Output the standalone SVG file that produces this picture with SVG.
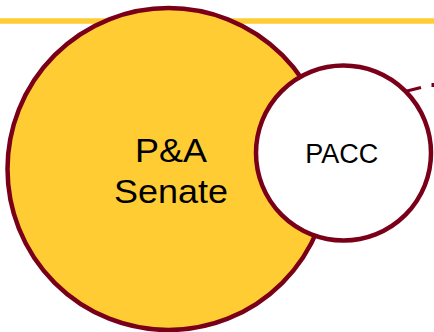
<svg xmlns="http://www.w3.org/2000/svg" width="434" height="332" viewBox="0 0 434 332">
<style>
.ring{stroke:#7A0019;stroke-width:4.5}
.lbl{font-family:"Liberation Sans",Arial,sans-serif;fill:#000;text-anchor:middle}
.conn{stroke:#7A0019;stroke-width:3;fill:none}
</style>
<rect x="0" y="0" width="434" height="332" fill="#fff"/>
<line x1="0" y1="21" x2="434" y2="21" stroke="#FFCC33" stroke-width="5.4"/>
<g id="senate">
<circle class="ring" cx="168.5" cy="169" r="161" fill="#FFCC33"/>
<text class="lbl" x="171" y="161.7" font-size="33" textLength="72" lengthAdjust="spacingAndGlyphs">P&amp;A</text>
<text class="lbl" x="171" y="203.3" font-size="33" textLength="114" lengthAdjust="spacingAndGlyphs">Senate</text>
</g>
<g id="connectors">
<line class="conn" x1="403" y1="92" x2="421" y2="87.5"/>
<line class="conn" x1="433" y1="83" x2="433" y2="87" stroke-width="2"/>
</g>
<g id="pacc">
<circle class="ring" cx="343.5" cy="153" r="87.5" fill="#fff"/>
<text class="lbl" x="341.7" y="163.3" font-size="27">PACC</text>
</g>
</svg>
